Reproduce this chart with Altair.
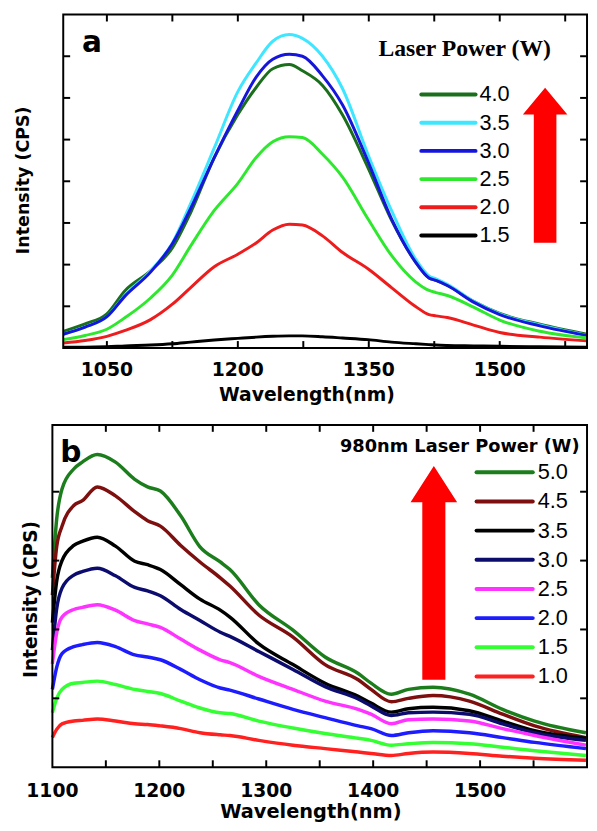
import altair as alt
import pandas as pd

# ---------------- Panel a data ----------------
wl_a = [1000, 1025, 1050, 1071, 1100, 1125, 1146, 1173, 1200, 1221, 1240, 1259, 1274,
        1297, 1320, 1349, 1376, 1404, 1419, 1427, 1440, 1470, 1500, 1546, 1600]
a_40 = [0.40, 0.58, 0.82, 1.38, 1.85, 2.40, 3.25, 4.57, 5.60, 6.25, 6.70, 6.80, 6.65,
        6.30, 5.59, 4.33, 3.07, 2.05, 1.68, 1.62, 1.50, 1.12, 0.83, 0.57, 0.33]
a_35 = [0.33, 0.50, 0.75, 1.27, 1.85, 2.52, 3.47, 4.80, 6.15, 6.84, 7.36, 7.52, 7.43,
        7.00, 6.22, 4.65, 3.30, 2.12, 1.73, 1.66, 1.53, 1.12, 0.82, 0.55, 0.30]
a_30 = [0.33, 0.50, 0.75, 1.25, 1.82, 2.50, 3.35, 4.57, 5.70, 6.50, 6.93, 7.05, 7.00,
        6.53, 5.83, 4.48, 3.10, 2.05, 1.68, 1.62, 1.50, 1.10, 0.80, 0.53, 0.30]
a_25 = [0.20, 0.30, 0.45, 0.73, 1.20, 1.75, 2.45, 3.30, 3.95, 4.57, 4.95, 5.07, 5.05,
        4.65, 4.10, 3.10, 2.22, 1.58, 1.38, 1.33, 1.26, 0.98, 0.67, 0.40, 0.24]
a_20 = [0.12, 0.18, 0.28, 0.42, 0.68, 1.05, 1.45, 1.95, 2.25, 2.52, 2.83, 2.97, 2.95,
        2.69, 2.29, 1.90, 1.45, 0.99, 0.80, 0.77, 0.73, 0.55, 0.37, 0.26, 0.17]
a_15 = [0.02, 0.02, 0.03, 0.05, 0.07, 0.10, 0.14, 0.19, 0.23, 0.26, 0.28, 0.29, 0.29,
        0.27, 0.24, 0.20, 0.14, 0.10, 0.08, 0.07, 0.06, 0.05, 0.04, 0.03, 0.02]
labels_a = ["4.0", "3.5", "3.0", "2.5", "2.0", "1.5"]
colors_a = ["#1b6e1b", "#3fe6ff", "#1515dc", "#2ee82e", "#ee1c1c", "#000000"]
series_a = [a_40, a_35, a_30, a_25, a_20, a_15]
xlabels_a = [1050, 1200, 1350, 1500]
xticks_a = [1050, 1125, 1200, 1275, 1350, 1425, 1500, 1575]
yticks_a = [1, 2, 3, 4, 5, 6, 7]

# ---------------- Panel b data ----------------
wl_b = [1100, 1104, 1109, 1120, 1128, 1142, 1159, 1177, 1189, 1201, 1220, 1238, 1257,
        1266, 1293, 1325, 1355, 1386, 1398, 1417, 1433, 1456, 1490, 1521, 1551, 1599]
b_50 = [2.75, 3.60, 4.04, 4.33, 4.43, 4.54, 4.43, 4.18, 4.07, 4.01, 3.65, 3.20, 2.98,
        2.87, 2.36, 1.99, 1.60, 1.36, 1.22, 1.06, 1.13, 1.16, 1.06, 0.84, 0.67, 0.50]
b_45 = [2.50, 3.20, 3.50, 3.80, 3.87, 4.07, 3.94, 3.71, 3.58, 3.50, 3.22, 2.98, 2.75,
        2.63, 2.21, 1.89, 1.49, 1.27, 1.13, 0.95, 1.00, 1.04, 0.96, 0.77, 0.60, 0.43]
b_35 = [2.10, 2.70, 3.00, 3.22, 3.28, 3.34, 3.21, 2.99, 2.94, 2.87, 2.65, 2.44, 2.28,
        2.18, 1.79, 1.49, 1.22, 1.03, 0.93, 0.80, 0.85, 0.87, 0.82, 0.67, 0.53, 0.42]
b_30 = [1.70, 2.30, 2.60, 2.79, 2.84, 2.89, 2.78, 2.61, 2.56, 2.49, 2.29, 2.13, 1.96,
        1.90, 1.68, 1.42, 1.17, 0.99, 0.89, 0.75, 0.79, 0.80, 0.77, 0.63, 0.50, 0.39]
b_25 = [1.50, 1.95, 2.18, 2.29, 2.32, 2.36, 2.28, 2.13, 2.08, 2.03, 1.86, 1.70, 1.56,
        1.52, 1.32, 1.13, 0.96, 0.84, 0.77, 0.63, 0.69, 0.70, 0.67, 0.56, 0.46, 0.32]
b_20 = [1.13, 1.45, 1.65, 1.75, 1.78, 1.81, 1.75, 1.63, 1.60, 1.56, 1.42, 1.27, 1.15,
        1.12, 0.99, 0.84, 0.72, 0.60, 0.56, 0.46, 0.50, 0.53, 0.50, 0.43, 0.36, 0.27]
b_15 = [0.79, 1.00, 1.13, 1.22, 1.23, 1.25, 1.20, 1.13, 1.10, 1.07, 0.96, 0.86, 0.79,
        0.78, 0.67, 0.57, 0.49, 0.42, 0.39, 0.32, 0.34, 0.36, 0.34, 0.29, 0.24, 0.17]
b_10 = [0.43, 0.55, 0.63, 0.67, 0.68, 0.70, 0.67, 0.63, 0.62, 0.60, 0.56, 0.50, 0.47,
        0.46, 0.39, 0.32, 0.27, 0.22, 0.20, 0.17, 0.20, 0.22, 0.20, 0.16, 0.13, 0.10]
labels_b = ["5.0", "4.5", "3.5", "3.0", "2.5", "2.0", "1.5", "1.0"]
colors_b = ["#1c7d1c", "#7d0f0f", "#000000", "#0c0c6e", "#ff33ff", "#1c1cff", "#33ff33", "#ff2020"]
series_b = [b_50, b_45, b_35, b_30, b_25, b_20, b_15, b_10]
xlabels_b = [1100, 1200, 1300, 1400, 1500]
xticks_b = [1150, 1200, 1250, 1300, 1350, 1400, 1450, 1500, 1550]
yticks_b = [1, 2, 3, 4]

SANS = "DejaVu Sans"
TICK = 7
ONE = pd.DataFrame({"k": [0]})


def long_df(wl, series, labels):
    rows = []
    for lab, vals in zip(labels, series):
        for w, v in zip(wl, vals):
            rows.append({"wl": w, "inten": v, "power": lab})
    return pd.DataFrame(rows)


def text_mark(txt, x, y, size, font=SANS, weight="bold", align="center",
              baseline="alphabetic", angle=0):
    return alt.Chart(ONE).mark_text(
        text=txt, font=font, fontWeight=weight, fontSize=size, align=align,
        baseline=baseline, angle=angle, color="black").encode(
        x=alt.value(x), y=alt.value(y))


def panel(wl, series, labels, colors, xdom, ydom, box, xlabels, xticks, yticks,
          lab_size, lab_base, xt_size, xt_xy, yt_size, yt_xy, letter, letter_xy,
          leg_title, leg_font, leg_title_size, leg_title_xy, leg_y, leg_x,
          arrow_xy, arrow_path, arrow_size, lw):
    x0, x1, y0, y1 = box  # left, right, top, bottom in pixels
    xs = alt.Scale(domain=xdom, range=[x0, x1], nice=False, zero=False)
    ys = alt.Scale(domain=ydom, range=[y1, y0], nice=False, zero=False)
    cscale = alt.Scale(domain=labels, range=colors)
    df = long_df(wl, series, labels)

    lines = alt.Chart(df).mark_line(strokeWidth=lw, interpolate="monotone").encode(
        x=alt.X("wl:Q", scale=xs, axis=None),
        y=alt.Y("inten:Q", scale=ys, axis=None),
        color=alt.Color("power:N", scale=cscale, legend=None),
        detail="power:N",
    )
    frame = alt.Chart(ONE).mark_rect(filled=False, stroke="black", strokeWidth=2).encode(
        x=alt.value(x0), x2=alt.value(x1), y=alt.value(y0), y2=alt.value(y1))

    xt = pd.DataFrame({"v": xticks})
    yt = pd.DataFrame({"v": yticks})
    xl = pd.DataFrame({"v": xlabels})
    rule = dict(color="black", strokeWidth=2)
    t_top = alt.Chart(xt).mark_rule(**rule).encode(
        x=alt.X("v:Q", scale=xs, axis=None), y=alt.value(y0), y2=alt.value(y0 + TICK))
    t_bot = alt.Chart(xt).mark_rule(**rule).encode(
        x=alt.X("v:Q", scale=xs, axis=None), y=alt.value(y1 - TICK), y2=alt.value(y1))
    t_left = alt.Chart(yt).mark_rule(**rule).encode(
        y=alt.Y("v:Q", scale=ys, axis=None), x=alt.value(x0), x2=alt.value(x0 + TICK))
    t_right = alt.Chart(yt).mark_rule(**rule).encode(
        y=alt.Y("v:Q", scale=ys, axis=None), x=alt.value(x1 - TICK), x2=alt.value(x1))
    t_labels = alt.Chart(xl).mark_text(
        font=SANS, fontWeight="bold", fontSize=lab_size, color="black",
        align="center", baseline="alphabetic").encode(
        x=alt.X("v:Q", scale=xs, axis=None), y=alt.value(lab_base),
        text=alt.Text("v:Q", format="d"))

    x_title = text_mark("Wavelength(nm)", xt_xy[0], xt_xy[1], xt_size)
    y_title = text_mark("Intensity (CPS)", yt_xy[0], yt_xy[1], yt_size, angle=270)
    letter_mark = text_mark(letter, letter_xy[0], letter_xy[1], 30, align="left")
    leg_title_mark = text_mark(leg_title, leg_title_xy[0], leg_title_xy[1],
                               leg_title_size, font=leg_font, baseline="middle")

    leg_df = pd.DataFrame({"power": labels})
    ly = alt.Y("power:N", sort=labels, axis=None,
               scale=alt.Scale(type="point", domain=labels, range=leg_y, padding=0))
    leg_lines = alt.Chart(leg_df).mark_rule(strokeWidth=4, strokeCap="round").encode(
        y=ly, x=alt.value(leg_x[0]), x2=alt.value(leg_x[1]),
        color=alt.Color("power:N", scale=cscale, legend=None))
    leg_text = alt.Chart(leg_df).mark_text(
        align="left", baseline="middle", font="Liberation Sans", fontSize=22,
        color="black").encode(y=ly, x=alt.value(leg_x[2]), text="power:N")

    arrow = alt.Chart(ONE).mark_point(
        shape=arrow_path, filled=True, color="#ff0000", opacity=1, size=arrow_size,
        strokeWidth=0).encode(x=alt.value(arrow_xy[0]), y=alt.value(arrow_xy[1]))

    return [lines, t_top, t_bot, t_left, t_right, frame, t_labels, x_title, y_title,
            letter_mark, leg_title_mark, leg_lines, leg_text, arrow]


arrow_a = "M0,-1L0.287,-0.656L0.146,-0.656L0.146,1L-0.146,1L-0.146,-0.656L-0.287,-0.656Z"
arrow_b = "M0,-1L0.218,-0.661L0.108,-0.661L0.108,1L-0.108,1L-0.108,-0.661L-0.218,-0.661Z"

layers_a = panel(
    wl_a, series_a, labels_a, colors_a, [1000, 1600], [0, 8], (56, 587, 1, 339),
    xlabels_a, xticks_a, yticks_a, 19, 367, 19, (303, 393), 17.7, (21, 169),
    "a", (75, 39), "Laser Power (W)", "Liberation Serif", 24, (463, 36),
    [82, 225], (419, 474, 478), (544.5, 153.7), arrow_a, 24649, 3)

layers_b = panel(
    wl_b, series_b, labels_b, colors_b, [1100, 1600], [0, 4.97], (45, 587, 417, 764),
    xlabels_b, xticks_b, yticks_b, 19, 794, 19.6, (307, 815), 18.8, (29, 594),
    "b", (53, 455), "980nm Laser Power (W)", SANS, 18, (458, 439),
    [465, 672], (475, 532, 537), (431.7, 567), arrow_b, 46950, 3.5)

chart = alt.layer(*(layers_a + layers_b)).resolve_scale(
    x="independent", y="independent", color="independent"
).properties(
    width=589, height=822, padding=0, autosize=alt.AutoSizeParams(type="none")
).configure_view(stroke=None)

chart.save("out.html", embed_options={"renderer": "svg", "actions": False})
